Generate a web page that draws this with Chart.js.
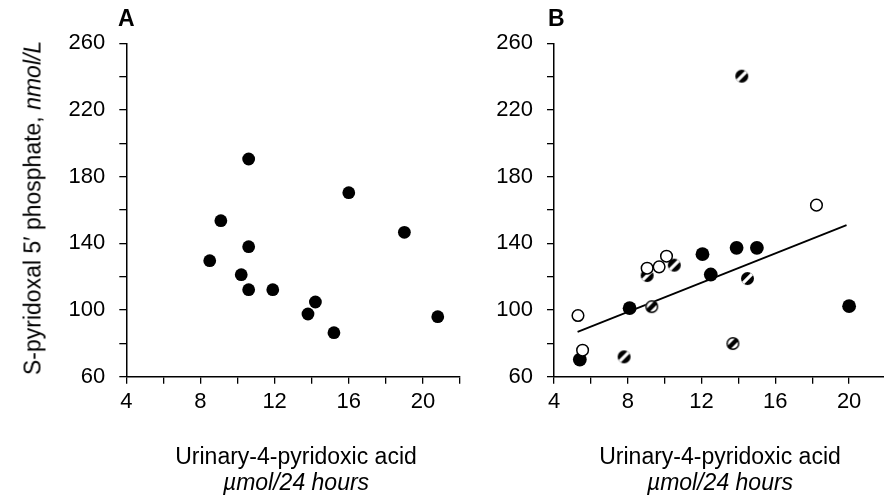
<!DOCTYPE html>
<html>
<head>
<meta charset="utf-8">
<script src="https://cdn.jsdelivr.net/npm/chart.js@4"></script>
<style>
  html, body { margin:0; padding:0; background:#fff; width:884px; height:496px; overflow:hidden; }
  body { position:relative; font-family:"Liberation Sans", Arial, Helvetica, sans-serif; color:#000; }
  canvas { position:absolute; top:0; }
  .lbl { position:absolute; white-space:nowrap; line-height:1; }
  .panel { font-weight:bold; font-size:23px; }
  .xt { font-size:23px; line-height:25.5px; text-align:center; transform:translateX(-50%); }
  .yt { font-size:23px; transform:translate(-50%,-50%) rotate(-90deg); }
</style>
</head>
<body>
<canvas id="cA" width="470" height="496" style="left:0"></canvas>
<canvas id="cB" width="430" height="496" style="left:470px"></canvas>

<div class="lbl panel" style="left:118px; top:7px;">A</div>
<div class="lbl panel" style="left:548px; top:7px;">B</div>
<div class="lbl yt" style="left:33px; top:208px;">S-pyridoxal 5′ phosphate, <i>nmol/L</i></div>
<div class="lbl xt" style="left:296px; top:444px;">Urinary-4-pyridoxic acid<br><i>µmol/24 hours</i></div>
<div class="lbl xt" style="left:720px; top:444px;">Urinary-4-pyridoxic acid<br><i>µmol/24 hours</i></div>

<script>
// ---- Data ----
// Panel A
const aX = [8.5, 9.1, 10.2, 10.6, 10.6, 10.6, 11.9, 13.8, 14.2, 15.2, 16.0, 19.0, 20.8];
const aY = [129.6, 153.6, 121.2, 190.6, 138.0, 112.2, 112.2, 97.6, 104.8, 86.4, 170.4, 146.6, 96.0];

// Panel B
const bFilledX = [5.4, 8.1, 12.05, 12.5, 13.9, 15.0, 20.0];
const bFilledY = [70.3, 101.1, 133.5, 121.3, 137.3, 137.3, 102.3];

const bOpenX = [5.3, 5.55, 9.05, 9.7, 10.1, 18.23];
const bOpenY = [96.7, 75.9, 125.1, 125.9, 132.3, 162.9];

const bStripedDarkX = [7.8, 9.05, 10.52, 14.18, 14.49];
const bStripedDarkY = [71.9, 120.7, 126.9, 240.3, 118.9];

const bStripedLightX = [9.3, 13.7];
const bStripedLightY = [102.0, 79.9];

const bFitX = [5.28, 19.86];
const bFitY = [86.9, 150.9];

// Axis ticks
const xMin = 4, xMax = 22, xStep = 2;
const xLabelTicks = [4, 8, 12, 16, 20];
const yMin = 60, yMax = 260, yStep = 20;
const yLabelTicks = [60, 100, 140, 180, 220, 260];

// ---- helpers ----
const pts = (xs, ys) => xs.map((x, i) => ({ x, y: ys[i] }));

function stripedMarker(dark) {
  const d = 15, r = 6.5, c = document.createElement('canvas');
  c.width = d; c.height = d;
  const g = c.getContext('2d');
  const cx = d / 2, cy = d / 2;
  g.save();
  g.beginPath(); g.arc(cx, cy, r, 0, Math.PI * 2); g.closePath(); g.clip();
  g.fillStyle = dark ? '#000' : '#fff';
  g.fillRect(0, 0, d, d);
  g.translate(cx, cy); g.rotate(-Math.PI / 4);
  g.fillStyle = dark ? '#fff' : '#000';
  const bw = dark ? 3.2 : 4.4;
  g.fillRect(-d, -bw / 2, 2 * d, bw);
  g.restore();
  if (!dark) {
    g.beginPath(); g.arc(cx, cy, r - 0.7, 0, Math.PI * 2);
    g.lineWidth = 1.4; g.strokeStyle = '#000'; g.stroke();
  }
  return c;
}

const tickFont = { family: '"Liberation Sans", Arial, Helvetica, sans-serif', size: 22 };

function scales(yWidth) {
  return {
    x: {
      type: 'linear', min: xMin, max: xMax,
      afterBuildTicks: (ax) => {
        const t = [];
        for (let v = xMin; v <= xMax + 1e-9; v += xStep) t.push({ value: v });
        ax.ticks = t;
      },
      afterFit: (ax) => { ax.height = 496 - 376.7; },
      ticks: {
        autoSkip: false, maxRotation: 0, minRotation: 0, padding: 5,
        color: '#000', font: tickFont,
        callback: (v) => xLabelTicks.includes(v) ? String(v) : ''
      },
      grid: { display: true, drawOnChartArea: false, drawTicks: true, tickLength: 7, color: '#000', lineWidth: 1.3 },
      border: { display: true, color: '#000', width: 1.5 }
    },
    y: {
      type: 'linear', min: yMin, max: yMax,
      afterBuildTicks: (ax) => {
        const t = [];
        for (let v = yMin; v <= yMax + 1e-9; v += yStep) t.push({ value: v });
        ax.ticks = t;
      },
      afterFit: (ax) => { ax.width = yWidth; },
      ticks: {
        autoSkip: false, padding: 14, color: '#000', font: tickFont,
        callback: (v) => yLabelTicks.includes(v) ? String(v) : ''
      },
      grid: { display: true, drawOnChartArea: false, drawTicks: true, tickLength: 7, color: '#000', lineWidth: 1.3 },
      border: { display: true, color: '#000', width: 1.5 }
    }
  };
}

const common = (yWidth, rightPad) => ({
  responsive: false,
  animation: false,
  devicePixelRatio: 1,
  layout: { padding: { top: 43.3, right: rightPad, bottom: 0, left: 0 } },
  plugins: { legend: { display: false }, tooltip: { enabled: false } },
  scales: scales(yWidth)
});

// Panel A
new Chart(document.getElementById('cA'), {
  type: 'scatter',
  data: {
    datasets: [{
      data: pts(aX, aY),
      pointRadius: 6.4, pointBackgroundColor: '#000', pointBorderColor: '#000', pointBorderWidth: 0
    }]
  },
  options: common(126.3, 10)
});

// Panel B
new Chart(document.getElementById('cB'), {
  type: 'scatter',
  data: {
    datasets: [
      { type: 'line', data: pts(bFitX, bFitY), borderColor: '#000', borderWidth: 1.8, pointRadius: 0, fill: false, order: 4 },
      { data: pts(bFilledX, bFilledY), pointRadius: 6.9, pointBackgroundColor: '#000', pointBorderColor: '#000', pointBorderWidth: 0, order: 3 },
      { data: pts(bStripedDarkX, bStripedDarkY), pointStyle: stripedMarker(true), order: 2 },
      { data: pts(bStripedLightX, bStripedLightY), pointStyle: stripedMarker(false), order: 2 },
      { data: pts(bOpenX, bOpenY), pointRadius: 5.8, pointBackgroundColor: '#fff', pointBorderColor: '#000', pointBorderWidth: 1.5, order: 1 }
    ]
  },
  options: common(84, 430 - 416)
});
</script>
</body>
</html>
